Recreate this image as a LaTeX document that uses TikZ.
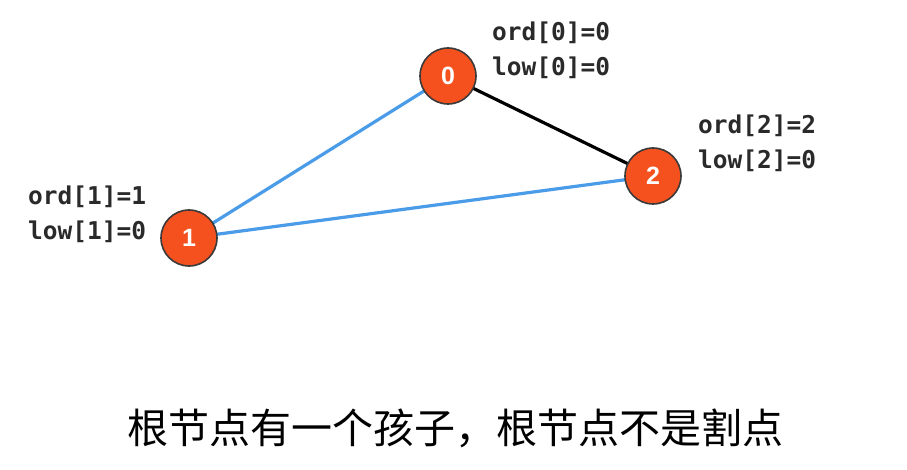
\documentclass[tikz,border=0pt]{standalone}
\usepackage{fontspec}
\setmainfont{Liberation Sans}
\newfontfamily\monof{DejaVu Sans Mono}
\newfontfamily\cjkf{Noto Sans CJK SC}
\definecolor{nodefill}{HTML}{F4511E}
\definecolor{nodeedge}{HTML}{3A3A3A}
\definecolor{edgeblue}{HTML}{4A9BE8}
\definecolor{labelc}{HTML}{2A2A2A}
\tikzset{
  vert/.style={circle,fill=nodefill,draw=nodeedge,line width=1.6pt,minimum size=56pt,inner sep=0pt,
    text=white,font=\fontsize{25}{25}\selectfont\bfseries},
  bluee/.style={edgeblue,line width=3.2pt},
  blacke/.style={black,line width=3.2pt},
  lab/.style={anchor=west,inner sep=0pt,text=labelc,font=\monof\bfseries\fontsize{24.5}{35}\selectfont,align=left},
  captxt/.style={inner sep=0pt,font=\cjkf\fontsize{41}{41}\selectfont}
}
\begin{document}
\begin{tikzpicture}[x=1pt,y=-1pt]
\useasboundingbox (0,0) rectangle (907,470);
\coordinate (c0) at (448,76);
\coordinate (c1) at (189,238);
\coordinate (c2) at (653,176);
\draw[bluee] (c1) -- (c0);
\draw[bluee] (c1) -- (c2);
\draw[blacke] (c0) -- (c2);
\node[vert] (v0) at (c0) {0};
\node[vert] (v1) at (c1) {1};
\node[vert] (v2) at (c2) {2};
\node[lab] (l0) at (492,50) {ord[0]=0\\low[0]=0};
\node[lab] (l2) at (698,143) {ord[2]=2\\low[2]=0};
\node[lab] (l1) at (28,214) {ord[1]=1\\low[1]=0};
\node[captxt] (t) at (455,428) {根节点有一个孩子，根节点不是割点};
\end{tikzpicture}
\end{document}
